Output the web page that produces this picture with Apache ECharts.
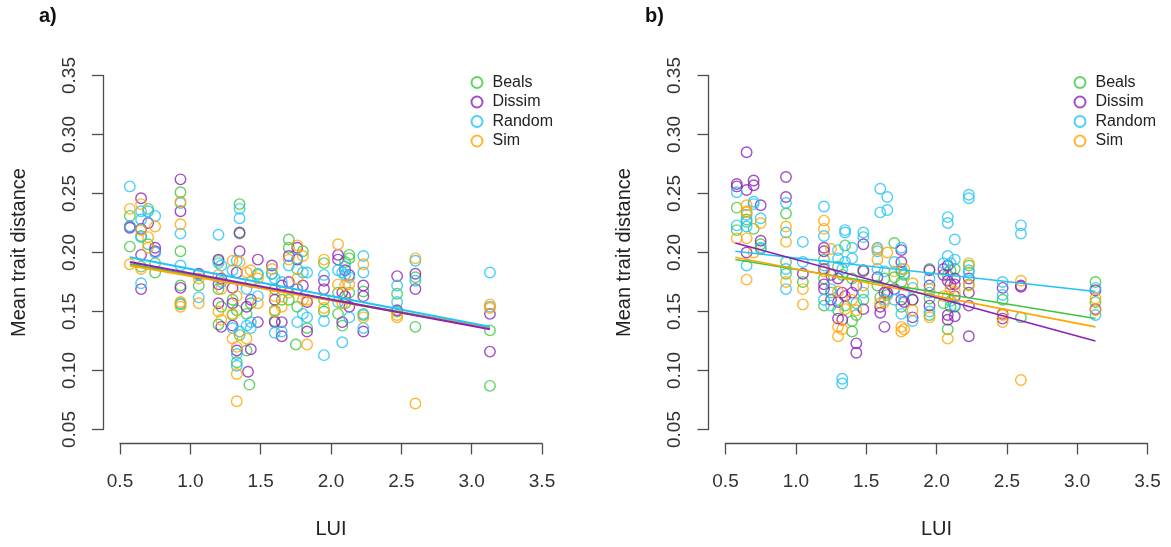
<!DOCTYPE html>
<html>
<head>
<meta charset="utf-8">
<script src="https://cdn.jsdelivr.net/npm/echarts@6/dist/echarts.min.js"></script>
<style>
html,body{margin:0;padding:0;background:#fff;}
#chart{width:1171px;height:547px;}
</style>
</head>
<body>
<div id="chart"></div>
<script>
// ---------- data ----------
const seriesNames = ['Beals', 'Dissim', 'Random', 'Sim'];
const xTicks = ['0.5', '1.0', '1.5', '2.0', '2.5', '3.0', '3.5'];
const yTicks = ['0.05', '0.10', '0.15', '0.20', '0.25', '0.30', '0.35'];

// Panel a) points [LUI, mean trait distance]
const aBeals = [[0.57,0.231],[0.57,0.205],[0.65,0.214],[0.65,0.188],[0.70,0.237],[0.70,0.207],[0.75,0.191],[0.75,0.183],[0.93,0.251],[0.93,0.201],[0.93,0.172],[0.93,0.156],[1.06,0.172],[1.20,0.193],[1.20,0.169],[1.20,0.139],[1.22,0.154],[1.30,0.160],[1.30,0.147],[1.33,0.151],[1.33,0.107],[1.35,0.241],[1.35,0.216],[1.35,0.130],[1.40,0.148],[1.40,0.117],[1.42,0.088],[1.43,0.157],[1.48,0.181],[1.58,0.182],[1.60,0.169],[1.60,0.151],[1.60,0.142],[1.65,0.160],[1.70,0.211],[1.70,0.204],[1.70,0.160],[1.76,0.186],[1.76,0.154],[1.75,0.122],[1.80,0.201],[1.83,0.136],[1.95,0.191],[1.95,0.160],[1.95,0.150],[2.05,0.166],[2.05,0.148],[2.08,0.138],[2.10,0.192],[2.10,0.157],[2.13,0.198],[2.13,0.195],[2.13,0.166],[2.23,0.167],[2.23,0.147],[2.47,0.165],[2.47,0.150],[2.60,0.179],[2.60,0.137],[3.13,0.134],[3.13,0.087]];
const aDissim = [[0.57,0.222],[0.57,0.221],[0.65,0.246],[0.65,0.220],[0.65,0.198],[0.65,0.169],[0.70,0.225],[0.75,0.204],[0.75,0.201],[0.93,0.262],[0.93,0.235],[0.93,0.170],[1.06,0.182],[1.20,0.194],[1.20,0.173],[1.20,0.157],[1.22,0.178],[1.22,0.137],[1.30,0.170],[1.30,0.157],[1.30,0.138],[1.33,0.183],[1.33,0.117],[1.35,0.217],[1.35,0.201],[1.41,0.099],[1.40,0.154],[1.43,0.118],[1.43,0.160],[1.48,0.194],[1.48,0.141],[1.58,0.189],[1.60,0.160],[1.60,0.141],[1.65,0.172],[1.65,0.141],[1.65,0.129],[1.70,0.197],[1.70,0.175],[1.76,0.204],[1.76,0.194],[1.76,0.169],[1.80,0.172],[1.83,0.158],[1.83,0.133],[1.95,0.176],[1.95,0.169],[2.05,0.198],[2.05,0.194],[2.08,0.166],[2.08,0.141],[2.10,0.185],[2.10,0.163],[2.13,0.181],[2.13,0.154],[2.23,0.172],[2.23,0.163],[2.23,0.133],[2.47,0.180],[2.47,0.151],[2.60,0.182],[2.60,0.169],[3.13,0.148],[3.13,0.116]];
const aRandom = [[0.57,0.256],[0.57,0.222],[0.65,0.235],[0.65,0.228],[0.65,0.213],[0.65,0.174],[0.70,0.235],[0.75,0.231],[0.75,0.200],[0.93,0.242],[0.93,0.216],[0.93,0.189],[0.93,0.157],[1.06,0.181],[1.06,0.162],[1.20,0.215],[1.20,0.191],[1.22,0.189],[1.22,0.175],[1.30,0.185],[1.30,0.136],[1.33,0.193],[1.33,0.114],[1.33,0.104],[1.35,0.237],[1.35,0.229],[1.35,0.133],[1.40,0.169],[1.40,0.138],[1.43,0.175],[1.43,0.141],[1.43,0.136],[1.48,0.182],[1.48,0.163],[1.58,0.182],[1.60,0.178],[1.60,0.132],[1.65,0.175],[1.65,0.133],[1.70,0.189],[1.76,0.195],[1.76,0.169],[1.76,0.141],[1.80,0.183],[1.80,0.148],[1.83,0.183],[1.83,0.145],[1.95,0.181],[1.95,0.142],[1.95,0.113],[2.05,0.185],[2.05,0.158],[2.08,0.183],[2.08,0.124],[2.10,0.188],[2.10,0.181],[2.13,0.179],[2.13,0.145],[2.23,0.197],[2.23,0.183],[2.23,0.148],[2.23,0.136],[2.47,0.172],[2.47,0.158],[2.60,0.193],[2.60,0.176],[3.13,0.183],[3.13,0.154]];
const aSim = [[0.57,0.237],[0.57,0.190],[0.65,0.241],[0.65,0.219],[0.65,0.186],[0.70,0.213],[0.70,0.204],[0.75,0.222],[0.93,0.243],[0.93,0.224],[0.93,0.158],[0.93,0.154],[1.06,0.178],[1.06,0.157],[1.20,0.181],[1.20,0.150],[1.22,0.169],[1.22,0.143],[1.30,0.193],[1.30,0.148],[1.30,0.127],[1.33,0.163],[1.33,0.120],[1.33,0.097],[1.33,0.074],[1.35,0.192],[1.40,0.183],[1.40,0.127],[1.43,0.185],[1.48,0.178],[1.48,0.157],[1.58,0.186],[1.60,0.163],[1.60,0.150],[1.65,0.154],[1.70,0.194],[1.70,0.166],[1.76,0.206],[1.76,0.178],[1.80,0.197],[1.80,0.160],[1.83,0.160],[1.83,0.122],[1.95,0.194],[1.95,0.153],[2.05,0.207],[2.05,0.173],[2.08,0.157],[2.10,0.172],[2.13,0.173],[2.23,0.190],[2.23,0.145],[2.47,0.147],[2.47,0.145],[2.60,0.195],[2.60,0.072],[3.13,0.156],[3.13,0.153]];

// Panel b) points
const bBeals = [[0.58,0.238],[0.58,0.219],[0.65,0.228],[0.70,0.220],[0.75,0.207],[0.75,0.203],[0.93,0.233],[0.93,0.192],[0.93,0.182],[1.05,0.175],[1.20,0.194],[1.20,0.178],[1.20,0.155],[1.25,0.166],[1.30,0.188],[1.30,0.151],[1.33,0.181],[1.35,0.206],[1.35,0.155],[1.40,0.178],[1.40,0.142],[1.40,0.133],[1.43,0.147],[1.48,0.184],[1.48,0.160],[1.58,0.172],[1.60,0.162],[1.63,0.178],[1.65,0.164],[1.70,0.208],[1.70,0.179],[1.75,0.184],[1.75,0.175],[1.75,0.154],[1.77,0.181],[1.83,0.160],[1.95,0.186],[1.95,0.161],[1.95,0.147],[2.05,0.157],[2.08,0.181],[2.08,0.135],[2.10,0.185],[2.10,0.154],[2.13,0.186],[2.13,0.154],[2.23,0.189],[2.23,0.173],[2.47,0.160],[2.60,0.145],[3.13,0.175],[3.13,0.158]];
const bDissim = [[0.58,0.258],[0.58,0.256],[0.65,0.285],[0.65,0.253],[0.65,0.200],[0.70,0.261],[0.70,0.257],[0.75,0.240],[0.75,0.210],[0.93,0.264],[0.93,0.247],[1.05,0.182],[1.20,0.204],[1.20,0.201],[1.20,0.186],[1.20,0.173],[1.20,0.169],[1.25,0.181],[1.25,0.160],[1.30,0.178],[1.30,0.158],[1.30,0.144],[1.33,0.166],[1.33,0.143],[1.35,0.163],[1.40,0.166],[1.43,0.172],[1.43,0.123],[1.43,0.115],[1.48,0.207],[1.48,0.185],[1.48,0.152],[1.58,0.179],[1.60,0.154],[1.60,0.149],[1.63,0.166],[1.63,0.137],[1.65,0.166],[1.70,0.169],[1.75,0.202],[1.75,0.192],[1.75,0.160],[1.77,0.158],[1.83,0.160],[1.83,0.145],[1.95,0.185],[1.95,0.172],[1.95,0.155],[2.05,0.186],[2.05,0.181],[2.08,0.189],[2.08,0.176],[2.08,0.147],[2.08,0.143],[2.10,0.173],[2.13,0.178],[2.13,0.173],[2.13,0.163],[2.13,0.146],[2.23,0.178],[2.23,0.166],[2.23,0.155],[2.23,0.129],[2.47,0.170],[2.47,0.148],[2.47,0.144],[2.60,0.172],[2.60,0.171],[3.13,0.168],[3.13,0.152]];
const bRandom = [[0.58,0.251],[0.58,0.223],[0.65,0.232],[0.65,0.226],[0.65,0.222],[0.65,0.189],[0.70,0.243],[0.70,0.241],[0.75,0.229],[0.75,0.204],[0.93,0.242],[0.93,0.217],[0.93,0.186],[0.93,0.169],[1.05,0.209],[1.05,0.192],[1.20,0.239],[1.20,0.214],[1.20,0.189],[1.20,0.160],[1.25,0.169],[1.25,0.155],[1.30,0.202],[1.30,0.195],[1.33,0.186],[1.33,0.093],[1.33,0.089],[1.35,0.219],[1.35,0.217],[1.35,0.192],[1.40,0.204],[1.40,0.195],[1.43,0.157],[1.48,0.217],[1.48,0.213],[1.48,0.166],[1.58,0.204],[1.58,0.201],[1.58,0.186],[1.60,0.254],[1.60,0.234],[1.63,0.184],[1.63,0.160],[1.65,0.247],[1.65,0.236],[1.70,0.192],[1.70,0.160],[1.75,0.204],[1.75,0.186],[1.75,0.148],[1.77,0.182],[1.77,0.166],[1.83,0.170],[1.83,0.142],[1.95,0.178],[1.95,0.166],[1.95,0.150],[2.05,0.191],[2.08,0.230],[2.08,0.225],[2.08,0.197],[2.10,0.191],[2.10,0.159],[2.13,0.211],[2.13,0.194],[2.13,0.155],[2.23,0.249],[2.23,0.246],[2.23,0.185],[2.23,0.183],[2.47,0.175],[2.47,0.164],[2.60,0.223],[2.60,0.216],[3.13,0.170],[3.13,0.147]];
const bSim = [[0.58,0.212],[0.65,0.240],[0.65,0.235],[0.65,0.234],[0.65,0.212],[0.65,0.177],[0.70,0.200],[0.75,0.225],[0.93,0.222],[0.93,0.209],[0.93,0.175],[1.05,0.169],[1.05,0.156],[1.20,0.227],[1.20,0.220],[1.20,0.184],[1.25,0.203],[1.30,0.167],[1.30,0.137],[1.30,0.129],[1.33,0.135],[1.35,0.152],[1.40,0.160],[1.43,0.151],[1.48,0.172],[1.58,0.203],[1.58,0.194],[1.60,0.157],[1.63,0.158],[1.65,0.200],[1.70,0.184],[1.75,0.137],[1.75,0.133],[1.77,0.186],[1.77,0.135],[1.83,0.174],[1.83,0.151],[1.95,0.169],[1.95,0.145],[2.05,0.163],[2.08,0.163],[2.08,0.127],[2.10,0.169],[2.13,0.167],[2.23,0.191],[2.23,0.172],[2.47,0.147],[2.47,0.141],[2.60,0.176],[2.60,0.092],[3.13,0.161],[3.13,0.151]];

// Fitted regression lines: y at LUI = fitX[0] and fitX[1]
const fitX = [0.57, 3.13];
const aFitBeals = [0.190, 0.136];
const aFitDissim = [0.192, 0.135];
const aFitRandom = [0.196, 0.137];
const aFitSim = [0.189, 0.136];
const bFitBeals = [0.194, 0.144];
const bFitDissim = [0.208, 0.125];
const bFitRandom = [0.201, 0.167];
const bFitSim = [0.196, 0.137];

// ---------- styles ----------
const colors = ['#3cc83c', '#8b22b8', '#22c3f5', '#ffa500'];
const FONT = '"Liberation Sans", Arial, sans-serif';
const axisColor = '#4d4d4d';
const fitOrder = [0, 3, 2, 1]; // draw order of fitted lines (Dissim on top)

const panels = [
  {pts: [aBeals, aDissim, aRandom, aSim], fits: [aFitBeals, aFitDissim, aFitRandom, aFitSim], left: 120, lw: 2},
  {pts: [bBeals, bDissim, bRandom, bSim], fits: [bFitBeals, bFitDissim, bFitRandom, bFitSim], left: 725.5, lw: 1.6}
];

const grids = [], xAxes = [], yAxes = [], series = [];
panels.forEach((p, gi) => {
  grids.push({left: p.left, top: 75.5, width: 422, height: 354, containLabel: false});
  xAxes.push({
    gridIndex: gi, type: 'value', min: 0.5, max: 3.5, interval: 0.5, offset: 14,
    axisLine: {show: true, onZero: false, lineStyle: {color: axisColor, width: 1.3}},
    axisTick: {show: true, length: 11, lineStyle: {color: axisColor, width: 1.3}},
    axisLabel: {fontSize: 19, color: '#333', fontFamily: FONT, margin: 29,
      formatter: v => xTicks[Math.round((v - 0.5) / 0.5)]},
    splitLine: {show: false},
    name: 'LUI', nameLocation: 'middle', nameGap: 76,
    nameTextStyle: {fontSize: 20, color: '#222', fontFamily: FONT}
  });
  yAxes.push({
    gridIndex: gi, type: 'value', min: 0.05, max: 0.35, interval: 0.05, offset: 17,
    axisLine: {show: true, onZero: false, lineStyle: {color: axisColor, width: 1.3}},
    axisTick: {show: true, length: 11, lineStyle: {color: axisColor, width: 1.3}},
    axisLabel: {fontSize: 19, color: '#333', fontFamily: FONT, margin: 24, rotate: 90,
      formatter: v => yTicks[Math.round((v - 0.05) / 0.05)]},
    splitLine: {show: false},
    name: 'Mean trait distance', nameLocation: 'middle', nameGap: 74, nameRotate: 90,
    nameTextStyle: {fontSize: 20, color: '#222', fontFamily: FONT}
  });
  p.pts.forEach((arr, si) => {
    series.push({
      name: seriesNames[si], type: 'scatter', xAxisIndex: gi, yAxisIndex: gi,
      symbol: 'circle', symbolSize: 10.5, data: arr,
      itemStyle: {color: 'rgba(0,0,0,0)', borderColor: colors[si], borderWidth: 1.4},
      emphasis: {disabled: true}, silent: true, z: 2
    });
  });
  fitOrder.forEach(si => {
    const f = p.fits[si];
    series.push({
      name: seriesNames[si] + ' fit', type: 'line', xAxisIndex: gi, yAxisIndex: gi,
      data: [[fitX[0], f[0]], [fitX[1], f[1]]], symbol: 'none',
      lineStyle: {color: colors[si], width: p.lw}, silent: true, z: 3
    });
  });
});

const legendBase = {
  orient: 'vertical', itemWidth: 11, itemHeight: 11, itemGap: 3.5, selectedMode: false, padding: 0,
  textStyle: {fontSize: 16, color: '#222', fontFamily: FONT, padding: [0, 0, 0, 5]},
  data: seriesNames.map(n => ({name: n, icon: 'circle'}))
};

const chart = echarts.init(document.getElementById('chart'), null, {renderer: 'canvas'});
chart.setOption({
  animation: false,
  backgroundColor: '#fff',
  title: [
    {text: 'a)', left: 39, top: 6, padding: 0, textStyle: {fontSize: 20, fontWeight: 'bold', color: '#111', fontFamily: FONT}},
    {text: 'b)', left: 645, top: 6, padding: 0, textStyle: {fontSize: 20, fontWeight: 'bold', color: '#111', fontFamily: FONT}}
  ],
  legend: [
    Object.assign({}, legendBase, {left: 470.5, top: 74.5}),
    Object.assign({}, legendBase, {left: 1073.5, top: 74.5})
  ],
  grid: grids, xAxis: xAxes, yAxis: yAxes, series: series
});
</script>
</body>
</html>
